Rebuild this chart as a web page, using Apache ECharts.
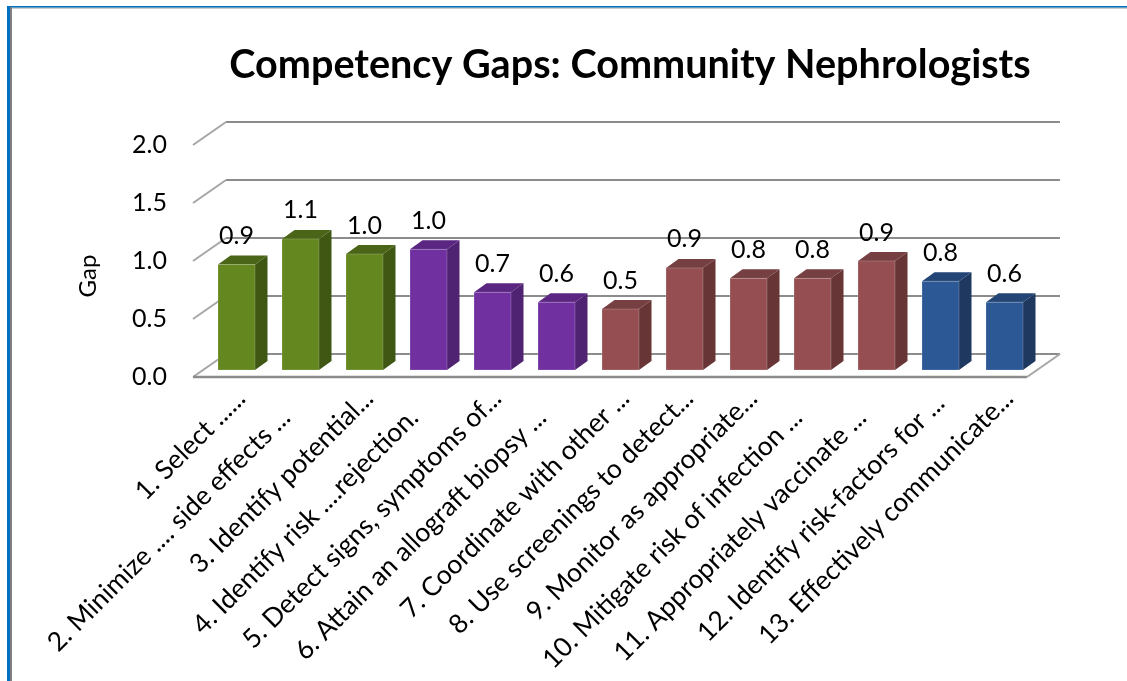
<!DOCTYPE html>
<html><head><meta charset="utf-8">
<style>html,body{margin:0;padding:0;background:#fff}#c{width:1127px;height:681px}</style>
<script src="https://cdn.jsdelivr.net/npm/echarts@6/dist/echarts.min.js"></script>
</head><body><div id="c"></div>
<script>
const NB='\u00a0';
const categories = ["1. Select ......","2. Minimize .... side effects ..."+NB.repeat(4),"3. Identify potential...","4. Identify risk ....rejection."+NB.repeat(4),"5. Detect signs, symptoms of...","6. Attain an allograft biopsy ..."+NB.repeat(4),"7. Coordinate with other ...","8. Use screenings to detect...","9. Monitor as appropriate...","10. Mitigate risk of infection ..."+NB.repeat(4),"11. Appropriately vaccinate ..."+NB.repeat(4),"12. Identify risk-factors for ..."+NB,"13. Effectively communicate..."];
const gaps = [0.91,1.13,1.0,1.04,0.67,0.585,0.525,0.88,0.79,0.79,0.94,0.765,0.585];
const groups = [0,0,0,1,1,1,2,2,2,2,2,3,3];
const gridValues = [0,0.5,1.0,1.5,2.0];
const palette = [
 {front:'#64871f',side:'#3f5713',top:'#4a6517'},
 {front:'#7030a0',side:'#4f2272',top:'#5a2682'},
 {front:'#954f52',side:'#683536',top:'#763f41'},
 {front:'#2c5896',side:'#1e3860',top:'#234575'}];
const FONT='Lato';
const chart = echarts.init(document.getElementById('c'),null,{renderer:'canvas'});
const SHIFT=16, WALL={dx:33,dy:-23}, OFF={dx:11.5-SHIFT,dy:-7}, DEPTH={dx:12.5,dy:-9}, BAR_W=37, RIGHT_EXTRA=2;

function renderWall(params,api){
  const v=api.value(0);
  const band=api.size([1,0])[0];
  const a=api.coord([0,v]); const b=api.coord([12,v]);
  const x0=a[0]-band/2-SHIFT, x1=b[0]+band/2+RIGHT_EXTRA-SHIFT, y=a[1];
  const children=[];
  const sl={stroke:'#a6a6a6',lineWidth:2,fill:null};
  children.push({type:'line',shape:{x1:x0,y1:y,x2:x0+WALL.dx,y2:y+WALL.dy},style:sl});
  children.push({type:'line',shape:{x1:x0+WALL.dx,y1:y+WALL.dy,x2:x1+WALL.dx,y2:y+WALL.dy},style:{stroke:'#8c8c8c',lineWidth:2}});
  if(v===0){
    children.push({type:'line',shape:{x1:x0,y1:y,x2:x1,y2:y},style:{stroke:'#8c8c8c',lineWidth:2.5}});
    children.push({type:'line',shape:{x1:x1,y1:y,x2:x1+WALL.dx,y2:y+WALL.dy},style:sl});
  }
  return {type:'group',children};
}
function renderBar(params,api){
  const i=api.value(0), v=api.value(1);
  const c=palette[groups[i]];
  const base=api.coord([i,0]), topP=api.coord([i,v]);
  const l=base[0]+OFF.dx-BAR_W/2, r=l+BAR_W, b=base[1]+OFF.dy, t=topP[1]+OFF.dy;
  const d=DEPTH;
  return {type:'group',children:[
    {type:'polygon',shape:{points:[[r,t],[r+d.dx,t+d.dy],[r+d.dx,b+d.dy],[r,b]]},style:{fill:c.side}},
    {type:'polygon',shape:{points:[[l,t],[l+d.dx,t+d.dy],[r+d.dx,t+d.dy],[r,t]]},style:{fill:c.top}},
    {type:'rect',shape:{x:l,y:t,width:BAR_W,height:b-t},style:{fill:c.front,stroke:'rgba(255,255,255,0.2)',lineWidth:1}},
    {type:'text',x:(l+r)/2,y:t-28.5,style:{text:v.toFixed(1),font:'25px '+FONT,fill:'#000',align:'center',verticalAlign:'middle'}}
  ]};
}
chart.setOption({
  animation:false,
  title:{text:'Competency Gaps: Community Nephrologists',left:625,top:40,textAlign:'center',
    textStyle:{fontFamily:FONT,fontWeight:'bold',fontSize:39.6,color:'#000'}},
  grid:{left:193+SHIFT,top:145,width:832,height:232,containLabel:false},
  xAxis:{type:'category',data:categories,axisLine:{show:false},axisTick:{show:false},
    axisLabel:{rotate:45,interval:0,margin:17,fontFamily:FONT,fontSize:26.5,color:'#000'}},
  yAxis:{type:'value',min:0,max:2,interval:0.5,name:'Gap',nameLocation:'middle',nameGap:109,nameRotate:90,
    nameTextStyle:{fontFamily:FONT,fontSize:24,color:'#000',padding:[0,30,0,0]},
    axisLine:{show:false},axisTick:{show:false},splitLine:{show:false},
    axisLabel:{margin:26+SHIFT,fontFamily:FONT,fontSize:25,color:'#000',formatter:v=>v.toFixed(1)}},
  graphic:[
    {type:'rect',shape:{x:7,y:6,width:1120,height:1.5},style:{fill:'#0070c0'},z:10},
    {type:'rect',shape:{x:7,y:7.5,width:1120,height:1},style:{fill:'#9a9a9a'},z:9},
    {type:'rect',shape:{x:7,y:6,width:3,height:675},style:{fill:'#0070c0'},z:10},
    {type:'rect',shape:{x:10,y:7,width:2,height:674},style:{fill:'#808080'},z:10}
  ],
  series:[
    {type:'custom',name:'wall',coordinateSystem:'cartesian2d',renderItem:renderWall,silent:true,z:1,clip:false,
      encode:{y:0},data:gridValues.map(v=>[v])},
    {type:'custom',name:'Gap',coordinateSystem:'cartesian2d',renderItem:renderBar,z:2,clip:false,
      encode:{x:0,y:1},data:gaps.map((v,i)=>[i,v])}
  ]
});
</script></body></html>
